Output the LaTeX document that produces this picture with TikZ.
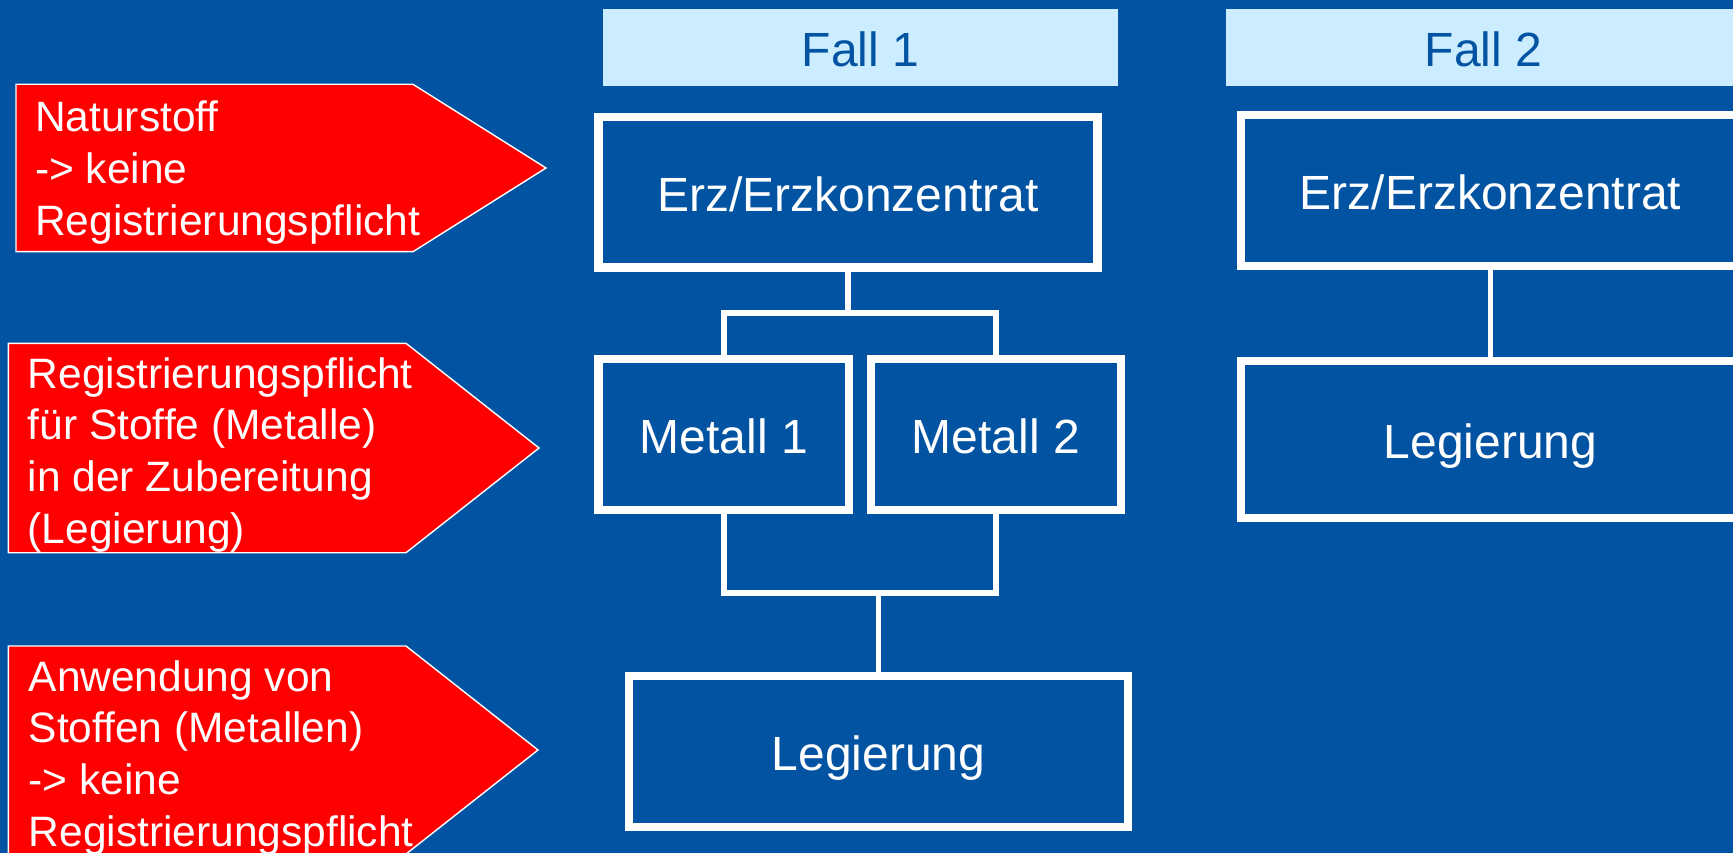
\documentclass[tikz,border=0pt]{standalone}
\usepackage{fontspec}
\setmainfont{Liberation Sans}
\definecolor{bgblue}{RGB}{2,83,162}
\definecolor{hdrblue}{RGB}{204,236,255}
\definecolor{tagred}{RGB}{255,0,0}
\begin{document}
\begin{tikzpicture}[x=1pt,y=-1pt,
  boxfont/.style={font=\fontsize{48}{58}\selectfont},
  hdr/.style={fill=hdrblue, text=bgblue, boxfont, inner sep=0pt, minimum width=515pt, minimum height=77pt, text height=38pt, text depth=0pt},
  wbox/.style={draw=white, line width=8.3pt, text=white, boxfont, inner sep=0pt, text height=38pt, text depth=0pt},
  link/.style={draw=white, line width=5.7pt},
  tag/.style={fill=tagred, draw=white, line width=1.4pt, line join=miter},
  tagtext/.style={text=white, font=\fontsize{42.5}{51.7}\selectfont, align=left, anchor=north west, inner sep=0pt}]
\useasboundingbox (0,0) rectangle (1733,853);
\fill[bgblue] (0,0) rectangle (1733,853);
\begin{scope}
\clip (0,0) rectangle (1733,853);
% red tags
\draw[tag] (16,84.3) -- (413,84.3) -- (546,168) -- (413,251.7) -- (16,251.7) -- cycle;
\draw[tag] (8.3,343.3) -- (406,343.3) -- (539,448) -- (406,552.7) -- (8.3,552.7) -- cycle;
\draw[tag] (8.3,646) -- (406,646) -- (538,750) -- (406,854) -- (8.3,854) -- cycle;
\node[tagtext] (tag1) at (35,91.7) {\rule{0pt}{40pt}Naturstoff\\-> keine\\Registrierungspflicht};
\node[tagtext] (tag2) at (27.6,348) {\rule{0pt}{40pt}Registrierungspflicht\\für Stoffe (Metalle)\\in der Zubereitung\\(Legierung)};
\node[tagtext] (tag3) at (28.5,651) {\rule{0pt}{40pt}Anwendung von\\Stoffen (Metallen)\\-> keine\\Registrierungspflicht};
% headers
\node[hdr] (hdr1) at (860.5,47.5) {Fall 1};
\node[hdr] (hdr2) at (1483.5,47.5) {Fall 2};
% Fall 1
\node[wbox, minimum width=499pt, minimum height=150.8pt] (erz1) at (848,192.1) {Erz/Erzkonzentrat};
\node[wbox, minimum width=250.8pt, minimum height=151pt] (m1) at (723.9,434.5) {Metall 1};
\node[wbox, minimum width=250pt, minimum height=151pt] (m2) at (996,434.5) {Metall 2};
\node[wbox, minimum width=499pt, minimum height=150.4pt] (leg1) at (878.5,751.5) {Legierung};
\coordinate (fork1) at (848,313);
\coordinate (fork2) at (878.5,593);
\draw[link] (erz1.south) -- (fork1);
\draw[link] (m1.north) |- (fork1) -| (m2.north);
\draw[link] (m1.south) |- (fork2) -| (m2.south);
\draw[link] (fork2) -- (leg1.north);
% Fall 2
\node[wbox, minimum width=499pt, minimum height=151pt] (erz2) at (1490.5,190.5) {Erz/Erzkonzentrat};
\node[wbox, minimum width=499pt, minimum height=157pt] (leg2) at (1490.5,439.5) {Legierung};
\draw[link] (erz2.south) -- (leg2.north);
\end{scope}
\end{tikzpicture}
\end{document}
